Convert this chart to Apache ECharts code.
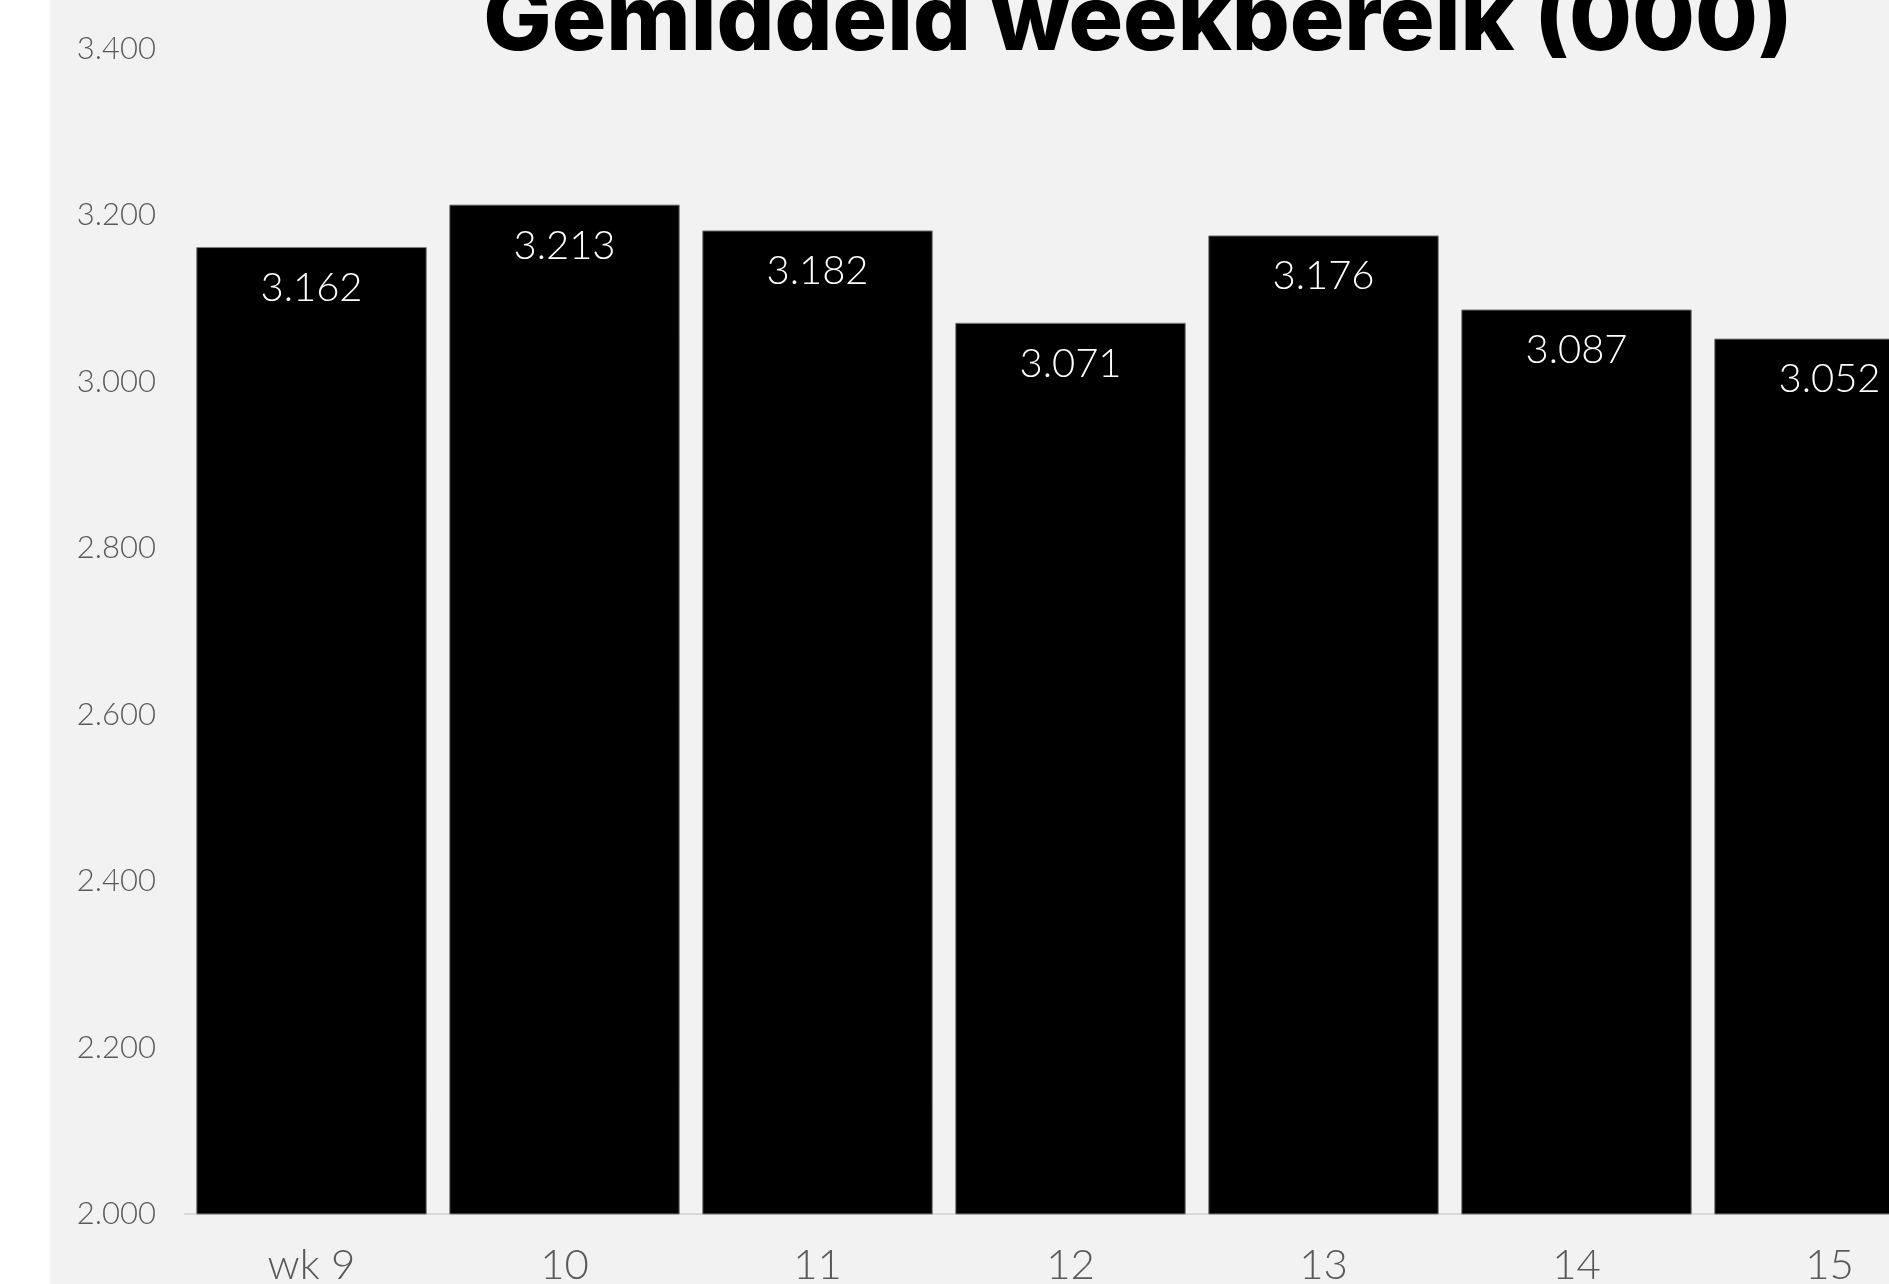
<!DOCTYPE html>
<html>
<head>
<meta charset="utf-8">
<script src="https://cdn.jsdelivr.net/npm/echarts@6/dist/echarts.min.js"></script>
<style>
  html, body { margin: 0; padding: 0; background: #fff; overflow: hidden; }
  #chart { width: 1889px; height: 1284px; }
</style>
</head>
<body>
<div id="chart"></div>
<script>
// gemiddeld weekbereik per week (x 1000)
const weeks = ['wk 9', '10', '11', '12', '13', '14', '15'];
const reach = [3162, 3213, 3182, 3071, 3176, 3087, 3052];
const yMin = 2000;
const yMax = 3400;
const yStep = 200;

const fmt = (v) => String(v).replace(/\B(?=(\d{3})+(?!\d))/g, '.');

const chart = echarts.init(document.getElementById('chart'));

const option = {
  backgroundColor: '#f2f2f2',
  animation: false,
  graphic: [
    {
      type: 'rect',
      shape: { x: 0, y: 0, width: 50, height: 1284 },
      style: { fill: '#ffffff' },
      silent: true
    },
    {
      type: 'text',
      x: 1138,
      y: 23,
      style: {
        text: 'Gemiddeld weekbereik (000)',
        fill: '#000',
        font: '800 91px Inter',
        align: 'center',
        verticalAlign: 'middle'
      }
    }
  ],
  grid: {
    left: 185,
    top: 49,
    width: 1771,   // loopt rechts buiten beeld, zoals het origineel
    height: 1165,
    containLabel: false,
    outerBoundsMode: 'none'
  },
  xAxis: {
    type: 'category',
    data: weeks,
    axisLine: { lineStyle: { color: '#d9d9d9', width: 2 } },
    axisTick: { show: false },
    axisLabel: {
      margin: 30,
      color: '#595959',
      fontFamily: 'Lato',
      fontWeight: 300,
      fontSize: 42
    }
  },
  yAxis: {
    type: 'value',
    min: yMin,
    max: yMax,
    interval: yStep,
    axisLine: { show: false },
    axisTick: { show: false },
    splitLine: { show: false },
    axisLabel: {
      margin: 29,
      color: '#595959',
      fontFamily: 'Lato',
      fontWeight: 300,
      fontSize: 31,
      formatter: (v) => fmt(v)
    }
  },
  series: [
    {
      type: 'bar',
      data: reach,
      barCategoryGap: '8.9%',
      itemStyle: {
        color: '#000',
        borderColor: '#7f7f7f',
        borderWidth: 1
      },
      label: {
        show: true,
        position: 'insideTop',
        distance: 21,
        color: '#fff',
        fontFamily: 'Lato',
        fontWeight: 300,
        fontSize: 40,
        formatter: (p) => fmt(p.value)
      }
    }
  ]
};

chart.setOption(option);
</script>
</body>
</html>
